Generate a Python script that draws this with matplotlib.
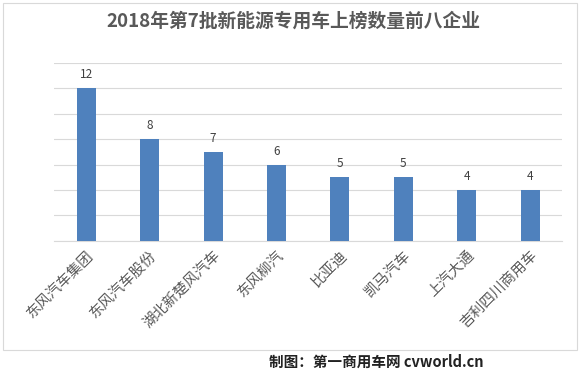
import matplotlib
matplotlib.use("Agg")
import matplotlib.pyplot as plt
from matplotlib.patches import Rectangle

plt.rcParams['font.family'] = ['Noto Sans CJK SC', 'DejaVu Sans']

# Data
companies = ["东风汽车集团", "东风汽车股份", "湖北新楚风汽车", "东风柳汽",
             "比亚迪", "凯马汽车", "上汽大通", "吉利四川商用车"]
counts = [12, 8, 7, 6, 5, 5, 4, 4]

fig = plt.figure(figsize=(5.86, 3.77), dpi=100)
fig.patch.set_facecolor("white")

# outer chart border
fig.add_artist(Rectangle((3 / 586, 1 - 350 / 377), 574 / 586, 347 / 377,
                         transform=fig.transFigure, fill=False,
                         edgecolor="#d9d9d9", linewidth=0.8))

ax = fig.add_axes([0.093, 0.361, 0.866, 0.472])
x = range(len(companies))
bars = ax.bar(x, counts, width=0.3, color="#4f81bd", zorder=3)

ax.set_ylim(0, 14)
ax.set_yticks(range(0, 15, 2))
ax.set_yticklabels([])
ax.tick_params(axis="y", length=0)
ax.set_xlim(-0.5, len(companies) - 0.5)
ax.grid(axis="y", color="#d9d9d9", linewidth=0.8, zorder=0)
for s in ["top", "right", "left"]:
    ax.spines[s].set_visible(False)
ax.spines["bottom"].set_color("#d9d9d9")

ax.set_xticks(list(x))
ax.set_xticklabels(companies, rotation=45, ha="right", rotation_mode="anchor",
                   fontsize=10.5, color="#595959")
ax.tick_params(axis="x", length=0, pad=5)

for b, v in zip(bars, counts):
    ax.text(b.get_x() + b.get_width() / 2, v + 0.55, str(v),
            ha="center", va="bottom", fontsize=8.5, color="#404040")

fig.text(0.5, 1 - 21 / 377, "2018年第7批新能源专用车上榜数量前八企业",
         ha="center", va="center", fontsize=13.5, fontweight="bold", color="#595959")

fig.text(376 / 586, 1 - 362 / 377, "制图：第一商用车网 cvworld.cn",
         ha="center", va="center", fontsize=10.5, fontweight="bold", color="#222222")

fig.savefig("out.png", dpi=100)
